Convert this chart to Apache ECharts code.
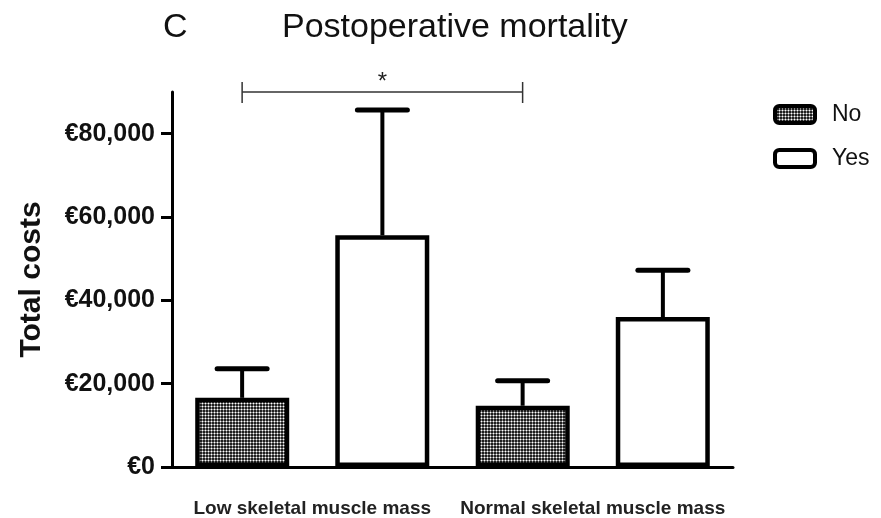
<!DOCTYPE html>
<html>
<head>
<meta charset="utf-8">
<script src="https://cdn.jsdelivr.net/npm/echarts@6/dist/echarts.min.js"></script>
<style>
  html, body { margin: 0; padding: 0; background: #fff; }
  #chart { width: 881px; height: 518px; }
</style>
</head>
<body>
<div id="chart"></div>
<script>
// Total costs by skeletal muscle mass group, split by postoperative mortality
const groups = ['Low skeletal muscle mass', 'Normal skeletal muscle mass'];
const seriesNames = ['No', 'Yes'];
const noMean = [16600, 14700];
const noSD = [7000, 6000];
const yesMean = [55600, 36000];
const yesSD = [30100, 11200];
const yTicks = [0, 20000, 40000, 60000, 80000];
const yMax = 90000;
// Significant comparison: Low/No vs Normal/No (bar slots 0 and 2)
const sigPair = [0, 2];
const sigLabel = '*';

// Bar slots in drawing order: Low-No, Low-Yes, Normal-No, Normal-Yes
const slots = ['lowNo', 'lowYes', 'normNo', 'normYes'];
const slotMeans = [noMean[0], yesMean[0], noMean[1], yesMean[1]];
const slotSD = [noSD[0], yesSD[0], noSD[1], yesSD[1]];

// Dotted fill used for the "No" bars
function makePattern() {
  const c = document.createElement('canvas');
  c.width = 3; c.height = 3;
  const ctx = c.getContext('2d');
  const px = [
    ['#1e1e1e', '#858585', '#1e1e1e'],
    ['#858585', '#ffffff', '#858585'],
    ['#1e1e1e', '#858585', '#1e1e1e']
  ];
  for (let y = 0; y < 3; y++) {
    for (let x = 0; x < 3; x++) {
      ctx.fillStyle = px[y][x];
      ctx.fillRect(x, y, 1, 1);
    }
  }
  return c;
}
const pattern = { image: makePattern(), repeat: 'repeat' };

const chart = echarts.init(document.getElementById('chart'));
const font = '"Liberation Sans", Arial, sans-serif';

const errData = slots.map((s, i) => [i, slotMeans[i], slotMeans[i] + slotSD[i]]);

chart.setOption({
  animation: false,
  textStyle: { fontFamily: font },
  title: [
    { text: 'C', left: 158, top: 6, textStyle: { fontSize: 34, fontWeight: 'normal', color: '#111', fontFamily: font } },
    { text: 'Postoperative mortality', left: 277, top: 6, textStyle: { fontSize: 34, fontWeight: 'normal', color: '#111', fontFamily: font } }
  ],
  legend: {
    data: seriesNames,
    orient: 'vertical',
    left: 768,
    top: 98,
    itemWidth: 40,
    itemHeight: 17,
    itemGap: 21,
    icon: 'roundRect',
    itemStyle: { borderWidth: 4, borderColor: '#000' },
    textStyle: { fontSize: 23, color: '#111', fontFamily: font, padding: [0, 0, 0, 12] }
  },
  grid: { left: 172, right: 148, top: 92, bottom: 50.5, containLabel: false },
  xAxis: [
    {
      type: 'category',
      data: groups,
      axisLine: { lineStyle: { color: '#000', width: 3 } },
      axisTick: { show: false },
      axisLabel: { interval: 0, hideOverlap: false, margin: 32, fontSize: 19, fontWeight: 'bold', color: '#222', fontFamily: font }
    },
    {
      type: 'category',
      data: slots,
      show: false,
      position: 'bottom'
    }
  ],
  yAxis: {
    type: 'value',
    min: 0,
    max: yMax,
    interval: 20000,
    name: 'Total costs',
    nameLocation: 'middle',
    nameGap: 125,
    nameTextStyle: { fontSize: 30, fontWeight: 'bold', color: '#111', fontFamily: font },
    axisLine: { show: true, lineStyle: { color: '#000', width: 3 } },
    axisTick: { show: true, length: 11, customValues: yTicks, lineStyle: { color: '#000', width: 3 } },
    axisLabel: {
      customValues: yTicks,
      margin: 17,
      fontSize: 25,
      fontWeight: 'bold',
      color: '#111',
      fontFamily: font,
      formatter: v => '€' + Number(v).toLocaleString('en-US')
    },
    splitLine: { show: false }
  },
  series: [
    {
      name: 'No',
      type: 'bar',
      data: noMean,
      barWidth: 94,
      barGap: '49%',
      itemStyle: { color: pattern, borderColor: '#000', borderWidth: 4.5 }
    },
    {
      name: 'Yes',
      type: 'bar',
      data: yesMean,
      barWidth: 94,
      barGap: '49%',
      itemStyle: { color: '#fff', borderColor: '#000', borderWidth: 4.5 }
    },
    {
      // Upper SD whiskers
      type: 'custom',
      xAxisIndex: 1,
      clip: false,
      z: 1,
      data: errData,
      renderItem: function (params, api) {
        const top = api.coord([api.value(0), api.value(1)]);
        const hi = api.coord([api.value(0), api.value(2)]);
        const x = top[0];
        const half = 25;
        return {
          type: 'group',
          children: [
            { type: 'line', shape: { x1: x, y1: top[1], x2: x, y2: hi[1] }, style: { stroke: '#000', lineWidth: 4 } },
            { type: 'line', shape: { x1: x - half, y1: hi[1], x2: x + half, y2: hi[1] }, style: { stroke: '#000', lineWidth: 5, lineCap: 'round' } }
          ]
        };
      }
    },
    {
      // Significance bracket
      type: 'custom',
      xAxisIndex: 1,
      clip: false,
      silent: true,
      data: [[sigPair[0], sigPair[1], yMax]],
      renderItem: function (params, api) {
        const a = api.coord([api.value(0), api.value(2)]);
        const b = api.coord([api.value(1), api.value(2)]);
        const y = a[1];
        return {
          type: 'group',
          children: [
            { type: 'line', shape: { x1: a[0], y1: y, x2: b[0], y2: y }, style: { stroke: '#333', lineWidth: 1.5 } },
            { type: 'line', shape: { x1: a[0], y1: y - 10, x2: a[0], y2: y + 11 }, style: { stroke: '#333', lineWidth: 1.5 } },
            { type: 'line', shape: { x1: b[0], y1: y - 10, x2: b[0], y2: y + 11 }, style: { stroke: '#333', lineWidth: 1.5 } },
            { type: 'text', x: (a[0] + b[0]) / 2, y: y + 2, style: { text: sigLabel, fill: '#222', font: '24px ' + font, align: 'center', verticalAlign: 'bottom' } }
          ]
        };
      }
    }
  ]
});
</script>
</body>
</html>
